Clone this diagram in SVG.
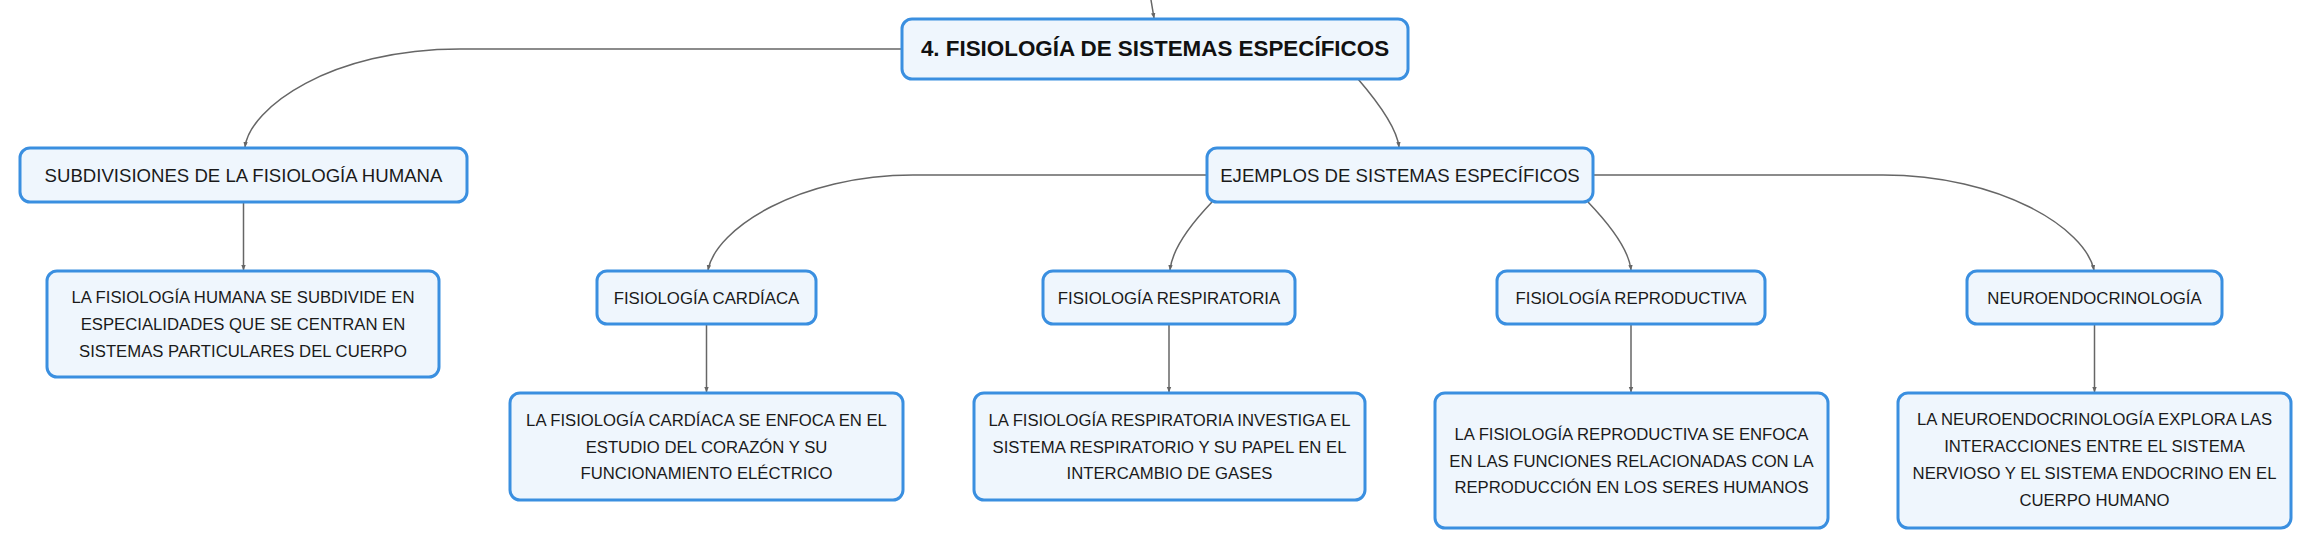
<svg xmlns="http://www.w3.org/2000/svg" width="2311" height="549" viewBox="0 0 2311 549">
<defs>
<marker id="arr" markerUnits="userSpaceOnUse" markerWidth="6" markerHeight="6" viewBox="0 0 6 6" refX="5" refY="3" orient="auto">
<path d="M0,0.8 L5.5,3 L0,5.2 Z" fill="#666"/>
</marker>
</defs>
<style>
.box{fill:#eff6fd;stroke:#3a8fe0;stroke-width:3}
.t{font-family:"Liberation Sans",Arial,sans-serif;fill:#1a1a1a;text-anchor:middle}
.root{font-size:22.4px;font-weight:bold;fill:#111}
.l2{font-size:18.6px}
.l3{font-size:16.8px}
.d{font-size:16.7px}
.c{fill:none;stroke:#666;stroke-width:1.5;marker-end:url(#arr)}
</style>
<rect width="2311" height="549" fill="#ffffff"/>
<g id="connectors">
<path class="c" d="M1151,0 L1154,18"/>
<path class="c" d="M902,49 L460,49 C330,49 250,108 245,147"/>
<path class="c" d="M1358,79 C1383,108 1397,130 1399,147"/>
<path class="c" d="M243.5,202 L243.5,270"/>
<path class="c" d="M1207,175 L913,175 C800,175 716,228 708,270"/>
<path class="c" d="M1212,202 C1190,225 1172,250 1170,270"/>
<path class="c" d="M1588,202 C1610,225 1629,250 1631,270"/>
<path class="c" d="M1593,175 L1883,175 C2000,175 2085,228 2094,270"/>
<path class="c" d="M706.5,324 L706.5,392"/>
<path class="c" d="M1169,324 L1169,392"/>
<path class="c" d="M1631,324 L1631,392"/>
<path class="c" d="M2094.5,324 L2094.5,392"/>
</g>
<g id="root">
<rect class="box" x="902" y="19" width="506" height="60" rx="10"/>
<text class="t root" x="1155" y="56">4. FISIOLOGÍA DE SISTEMAS ESPECÍFICOS</text>
</g>
<g id="subdivisiones">
<rect class="box" x="20" y="148" width="447" height="54" rx="10"/>
<text class="t l2" x="243.5" y="182">SUBDIVISIONES DE LA FISIOLOGÍA HUMANA</text>
</g>
<g id="ejemplos">
<rect class="box" x="1207" y="148" width="386" height="54" rx="10"/>
<text class="t l2" x="1400" y="182">EJEMPLOS DE SISTEMAS ESPECÍFICOS</text>
</g>
<g id="desc-subdivisiones">
<rect class="box" x="47" y="271" width="392" height="106" rx="10"/>
<text class="t d" x="243" y="303">LA FISIOLOGÍA HUMANA SE SUBDIVIDE EN</text>
<text class="t d" x="243" y="330">ESPECIALIDADES QUE SE CENTRAN EN</text>
<text class="t d" x="243" y="357">SISTEMAS PARTICULARES DEL CUERPO</text>
</g>
<g id="cardiaca">
<rect class="box" x="597" y="271" width="219" height="53" rx="10"/>
<text class="t l3" x="706.5" y="303.5">FISIOLOGÍA CARDÍACA</text>
</g>
<g id="respiratoria">
<rect class="box" x="1043" y="271" width="252" height="53" rx="10"/>
<text class="t l3" x="1169" y="303.5">FISIOLOGÍA RESPIRATORIA</text>
</g>
<g id="reproductiva">
<rect class="box" x="1497" y="271" width="268" height="53" rx="10"/>
<text class="t l3" x="1631" y="303.5">FISIOLOGÍA REPRODUCTIVA</text>
</g>
<g id="neuro">
<rect class="box" x="1967" y="271" width="255" height="53" rx="10"/>
<text class="t l3" x="2094.5" y="303.5">NEUROENDOCRINOLOGÍA</text>
</g>
<g id="desc-cardiaca">
<rect class="box" x="510" y="393" width="393" height="107" rx="10"/>
<text class="t d" x="706.5" y="426">LA FISIOLOGÍA CARDÍACA SE ENFOCA EN EL</text>
<text class="t d" x="706.5" y="453">ESTUDIO DEL CORAZÓN Y SU</text>
<text class="t d" x="706.5" y="479">FUNCIONAMIENTO ELÉCTRICO</text>
</g>
<g id="desc-respiratoria">
<rect class="box" x="974" y="393" width="391" height="107" rx="10"/>
<text class="t d" x="1169.5" y="426">LA FISIOLOGÍA RESPIRATORIA INVESTIGA EL</text>
<text class="t d" x="1169.5" y="453">SISTEMA RESPIRATORIO Y SU PAPEL EN EL</text>
<text class="t d" x="1169.5" y="479">INTERCAMBIO DE GASES</text>
</g>
<g id="desc-reproductiva">
<rect class="box" x="1435" y="393" width="393" height="135" rx="10"/>
<text class="t d" x="1631.5" y="440">LA FISIOLOGÍA REPRODUCTIVA SE ENFOCA</text>
<text class="t d" x="1631.5" y="467">EN LAS FUNCIONES RELACIONADAS CON LA</text>
<text class="t d" x="1631.5" y="493">REPRODUCCIÓN EN LOS SERES HUMANOS</text>
</g>
<g id="desc-neuro">
<rect class="box" x="1898" y="393" width="393" height="135" rx="10"/>
<text class="t d" x="2094.5" y="425">LA NEUROENDOCRINOLOGÍA EXPLORA LAS</text>
<text class="t d" x="2094.5" y="452">INTERACCIONES ENTRE EL SISTEMA</text>
<text class="t d" x="2094.5" y="479">NERVIOSO Y EL SISTEMA ENDOCRINO EN EL</text>
<text class="t d" x="2094.5" y="506">CUERPO HUMANO</text>
</g>
</svg>
